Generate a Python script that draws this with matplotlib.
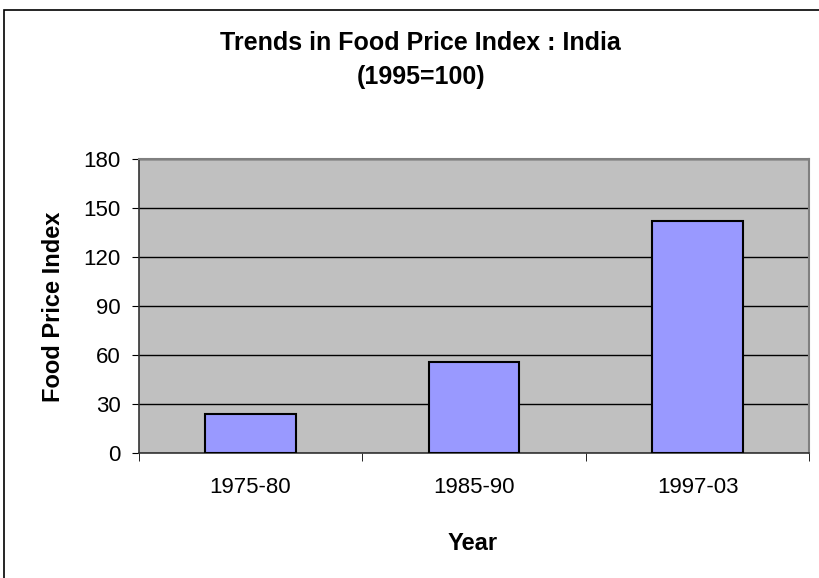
import matplotlib
matplotlib.use('Agg')
from matplotlib import pyplot as plt
from matplotlib.patches import Rectangle

years = ['1975-80', '1985-90', '1997-03']
foodPriceIndex = [24, 56, 142]
yTicks = [0, 30, 60, 90, 120, 150, 180]

plt.rcParams['font.family'] = ['Liberation Sans', 'DejaVu Sans']

W, H = 819, 578
fig = plt.figure(figsize=(W / 100, H / 100), dpi=100)

# outer chart frame (right and bottom fall outside the picture)
fig.add_artist(Rectangle((4 / W, -0.1), 1.2, 1.1 - 10 / H, transform=fig.transFigure,
                         facecolor='none', edgecolor='black', linewidth=1.2))

ax = fig.add_axes([138.7 / W, (H - 453.3) / H, 670.6 / W, 294.6 / H])
ax.set_facecolor('#C0C0C0')

x = range(len(years))
ax.bar(x, foodPriceIndex, width=0.404, color='#9999FF', edgecolor='black', linewidth=1.5, zorder=3)

ax.set_xlim(-0.5, len(years) - 0.5)
ax.set_ylim(0, 180)
ax.set_yticks(yTicks)
ax.set_yticklabels([str(v) for v in yTicks], fontsize=16)
ax.yaxis.grid(True, color='black', linewidth=1, zorder=1)
ax.set_axisbelow(True)

# category labels centered, tick marks at boundaries
ax.set_xticks(list(x))
ax.set_xticklabels(years, fontsize=16)
ax.tick_params(axis='x', length=0, pad=17)
ax.set_xticks([-0.5, 0.5, 1.5, 2.5], minor=True)
ax.tick_params(axis='x', which='minor', length=6, direction='out', color='black')
ax.tick_params(axis='y', length=5, direction='out', pad=8, color='black')

for side in ['top', 'right']:
    ax.spines[side].set_color('#808080')
    ax.spines[side].set_linewidth(1.5)
for side in ['left', 'bottom']:
    ax.spines[side].set_color('#333333')
    ax.spines[side].set_linewidth(1.2)

fig.text(420 / W, 1 - 43 / H, 'Trends in Food Price Index : India', ha='center', va='center',
         fontsize=18, fontweight='bold')
fig.text(421 / W, 1 - 77 / H, '(1995=100)', ha='center', va='center',
         fontsize=18, fontweight='bold')
fig.text(473 / W, 1 - 543 / H, 'Year', ha='center', va='center', fontsize=17, fontweight='bold')
fig.text(54 / W, 1 - 307 / H, 'Food Price Index', ha='center', va='center', rotation=90,
         fontsize=17, fontweight='bold')

plt.savefig('out.png', dpi=100)
